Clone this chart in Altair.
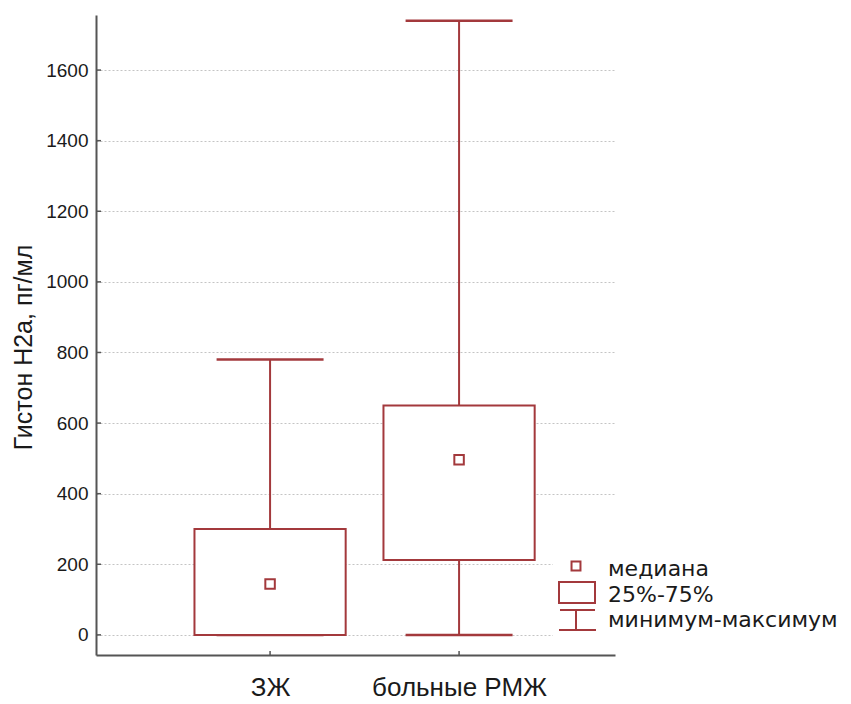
import altair as alt
import pandas as pd

# ---- data ----
groups = ["ЗЖ", "больные РМЖ"]
positions = [1, 2]
minimum = [0, 0]
q25 = [0, 212]
median = [144, 496]
q75 = [300, 650]
maximum = [780, 1740]
y_ticks = [0, 200, 400, 600, 800, 1000, 1200, 1400, 1600]
legend_labels = ["медиана", "25%-75%", "минимум-максимум"]
y_title = "Гистон Н2а,  пг/мл"

df = pd.DataFrame({
    "group": groups, "pos": positions, "min": minimum, "q25": q25,
    "median": median, "q75": q75, "max": maximum,
})

W, H = 519, 640
RED = "#A3393C"
FONT = "Liberation Sans"
LFONT = "DejaVu Sans"
TXT = "#1a1a1a"

xs = alt.Scale(domain=[0.079, 2.825], nice=False, zero=False)
ys = alt.Scale(domain=[-57, 1756], nice=False, zero=False)

label_expr = "datum.value == 1 ? '%s' : datum.value == 2 ? '%s' : ''" % (groups[0], groups[1])

x_axis = alt.Axis(values=positions, labelExpr=label_expr, grid=False, ticks=False, tickSize=0,
                  labelFontSize=26, labelPadding=40, labelBaseline="alphabetic",
                  labelFlush=False, labelOverlap=False, title=None,
                  domainColor="#555555", domainWidth=2, labelColor=TXT, labelFont=FONT)
y_axis = alt.Axis(values=y_ticks, format="d", grid=True, gridColor="#c4c4c4", gridDash=[2, 2],
                  gridWidth=1, ticks=False, tickSize=0, labelPadding=8, labelFontSize=19,
                  labelColor=TXT, labelFont=FONT, domainColor="#555555", domainWidth=2,
                  labelOverlap=False,
                  title=y_title, titleFont=FONT, titleFontSize=25, titleFontWeight="normal",
                  titleColor=TXT, titleX=-73, titleY=332, titleAngle=270,
                  titleAlign="center", titleBaseline="middle")

base = alt.Chart(df)

whisker = base.mark_rule(color=RED, strokeWidth=2).encode(
    x=alt.X("pos:Q", scale=xs, axis=x_axis),
    y=alt.Y("min:Q", scale=ys, axis=y_axis),
    y2="max:Q",
)

caps_base = base.transform_calculate(xl="datum.pos - 0.283", xr="datum.pos + 0.283")
cap_max = caps_base.mark_rule(color=RED, strokeWidth=2.5).encode(
    x=alt.X("xl:Q", scale=xs), x2="xr:Q", y=alt.Y("max:Q", scale=ys))
cap_min = caps_base.mark_rule(color=RED, strokeWidth=2.5).encode(
    x=alt.X("xl:Q", scale=xs), x2="xr:Q", y=alt.Y("min:Q", scale=ys))

box = base.transform_calculate(bl="datum.pos - 0.4", br="datum.pos + 0.4").mark_rect(
    fill="white", stroke=RED, strokeWidth=2).encode(
    x=alt.X("bl:Q", scale=xs), x2="br:Q", y=alt.Y("q25:Q", scale=ys), y2="q75:Q")

med = base.mark_point(shape="square", filled=False, color=RED, strokeWidth=2, size=90,
                      opacity=1).encode(x=alt.X("pos:Q", scale=xs), y=alt.Y("median:Q", scale=ys))

ytick_marks = alt.Chart(pd.DataFrame({"v": y_ticks})).mark_rule(color="#555555", strokeWidth=1.5).encode(
    y=alt.Y("v:Q", scale=ys), x=alt.value(0), x2=alt.value(5))
xtick_marks = alt.Chart(pd.DataFrame({"p": positions})).mark_rule(color="#555555", strokeWidth=1.5).encode(
    x=alt.X("p:Q", scale=xs), y=alt.value(H), y2=alt.value(H - 4))

# ---- legend (drawn as marks beside the plot) ----
one = pd.DataFrame({"k": [0]})
cover = alt.Chart(one).mark_rect(fill="white").encode(
    x=alt.value(457), x2=alt.value(745), y=alt.value(538), y2=alt.value(624))
leg_sq = alt.Chart(one).mark_point(shape="square", filled=False, color=RED, strokeWidth=2,
                                   size=80, opacity=1).encode(x=alt.value(480), y=alt.value(551))
leg_box = alt.Chart(one).mark_rect(fill="white", stroke=RED, strokeWidth=2).encode(
    x=alt.value(463), x2=alt.value(499), y=alt.value(567), y2=alt.value(588))
leg_top = alt.Chart(one).mark_rule(color=RED, strokeWidth=2).encode(
    x=alt.value(464), x2=alt.value(499), y=alt.value(595))
leg_bot = alt.Chart(one).mark_rule(color=RED, strokeWidth=2).encode(
    x=alt.value(463), x2=alt.value(500), y=alt.value(615))
leg_mid = alt.Chart(one).mark_rule(color=RED, strokeWidth=2).encode(
    x=alt.value(480), y=alt.value(595), y2=alt.value(615))

leg_texts = []
for lab, yy in zip(legend_labels, [561, 586.5, 612]):
    leg_texts.append(
        alt.Chart(pd.DataFrame({"label": [lab]})).mark_text(
            align="left", baseline="alphabetic", font=LFONT, fontSize=22, color=TXT
        ).encode(text="label:N", x=alt.value(512), y=alt.value(yy))
    )

chart = alt.layer(
    whisker, cap_max, cap_min, box, med, ytick_marks, xtick_marks,
    cover, leg_sq, leg_box, leg_top, leg_bot, leg_mid, *leg_texts
).properties(
    width=W, height=H,
    padding={"left": 88, "top": 7, "right": 228, "bottom": 48},
    autosize="none",
).configure_view(stroke=None)

chart.save("out.html", embed_options={"renderer": "svg", "actions": False})
